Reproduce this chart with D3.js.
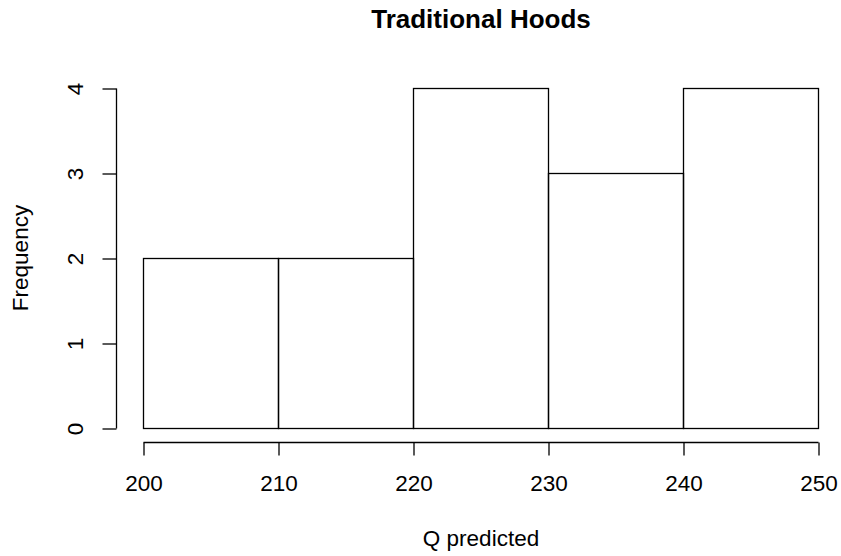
<!DOCTYPE html>
<html>
<head>
<meta charset="utf-8">
<script src="https://cdn.jsdelivr.net/npm/d3@7"></script>
<style>
  body { margin: 0; background: #fff; }
  text { font-family: "Liberation Sans", Arial, sans-serif; fill: #000; }
</style>
</head>
<body>
<div id="chart"></div>
<script>
// Histogram bins (Q predicted) and counts
var binStarts = [200, 210, 220, 230, 240];
var binWidth = 10;
var counts = [2, 2, 4, 3, 4];
var xTicks = [200, 210, 220, 230, 240, 250];
var yTicks = [0, 1, 2, 3, 4];

var svgWidth = 841;
var svgHeight = 556;

var svg = d3.select("#chart")
  .append("svg")
  .attr("width", svgWidth)
  .attr("height", svgHeight);

var xScale = d3.scaleLinear().domain([200, 250]).range([143.5, 818.5]);
var yScale = d3.scaleLinear().domain([0, 4]).range([428.5, 88.5]);

// Bars
svg.selectAll("rect.bar")
  .data(binStarts)
  .enter()
  .append("rect")
  .attr("class", "bar")
  .attr("x", d => xScale(d))
  .attr("y", (d, i) => yScale(counts[i]))
  .attr("width", d => xScale(d + binWidth) - xScale(d))
  .attr("height", (d, i) => yScale(0) - yScale(counts[i]))
  .attr("fill", "none")
  .attr("stroke", "#000")
  .attr("stroke-width", 1.3);

// X axis
var xAxis = svg.append("g")
  .attr("transform", "translate(0, 442.5)")
  .call(d3.axisBottom(xScale).tickValues(xTicks).tickFormat(d3.format("d"))
    .tickSize(13).tickPadding(20).tickSizeOuter(0));
xAxis.select(".domain").attr("d", `M${xScale(200)},0H${xScale(250)}`);

// Y axis
var yAxis = svg.append("g")
  .attr("transform", "translate(116.5, 0)")
  .call(d3.axisLeft(yScale).tickValues(yTicks).tickFormat(d3.format("d"))
    .tickSize(14).tickSizeOuter(0));
yAxis.select(".domain").attr("d", `M0,${yScale(0)}V${yScale(4)}`);
yAxis.selectAll(".tick text")
  .attr("x", 0)
  .attr("y", 0)
  .attr("dy", 0)
  .attr("text-anchor", "middle")
  .attr("transform", "translate(-34,0) rotate(-90)");

[xAxis, yAxis].forEach(function(ax) {
  ax.selectAll(".domain, .tick line").attr("stroke", "#000").attr("stroke-width", 1.3);
  ax.selectAll(".tick text").style("font-size", "22.5px").style("fill", "#000");
});

// Title
svg.append("text")
  .attr("x", 481)
  .attr("y", 28)
  .attr("text-anchor", "middle")
  .style("font-size", "26px")
  .style("font-weight", "bold")
  .text("Traditional Hoods");

// Axis labels
svg.append("text")
  .attr("x", 481)
  .attr("y", 546)
  .attr("text-anchor", "middle")
  .style("font-size", "22.5px")
  .text("Q predicted");

svg.append("text")
  .attr("transform", "translate(28, 258) rotate(-90)")
  .attr("text-anchor", "middle")
  .style("font-size", "22.5px")
  .text("Frequency");
</script>
</body>
</html>
